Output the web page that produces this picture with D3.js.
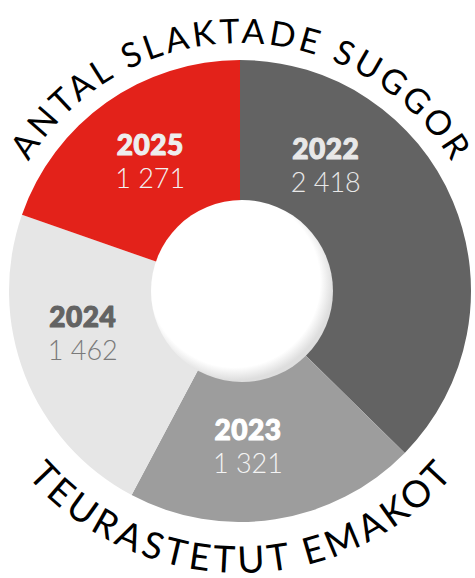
<!DOCTYPE html>
<html>
<head>
<meta charset="utf-8">
<script src="https://cdn.jsdelivr.net/npm/d3@7"></script>
<style>
  html, body { margin: 0; padding: 0; background: #fff; }
  svg { display: block; }
</style>
</head>
<body>
<div id="chart"></div>
<script>
// data
const years = ['2022', '2023', '2024', '2025'];
const sows = [2418, 1321, 1462, 1271];
const valueLabels = ['2 418', '1 321', '1 462', '1 271'];
const titleTop = 'ANTAL SLAKTADE SUGGOR';
const titleBottom = 'TEURASTETUT EMAKOT';

// look
const sliceColors = ['#636363', '#9d9d9d', '#e6e6e6', '#e3221a'];
const yearColors = ['#e8e8e8', '#ffffff', '#636363', '#eeeeee'];
const valueColors = ['#e8e8e8', '#f4f4f4', '#7a7a7a', '#f2f2f2'];
// hand placed labels, offset from the slice centroid
const labelNudge = [[-59, -67], [-16, -2], [-11, -17], [1, -4]];

const width = 475, height = 578;
const cx = 240, cy = 291;
const outerR = 231, innerR = 86;

const svg = d3.select('#chart').append('svg')
  .attr('width', width)
  .attr('height', height);

const defs = svg.append('defs');
const grad = defs.append('radialGradient')
  .attr('id', 'holeShade')
  .attr('cx', '46%').attr('cy', '45%').attr('r', '54%');
grad.append('stop').attr('offset', '0%').attr('stop-color', '#ffffff');
grad.append('stop').attr('offset', '87%').attr('stop-color', '#ffffff');
grad.append('stop').attr('offset', '100%').attr('stop-color', '#dedede');

const g = svg.append('g').attr('transform', `translate(${cx},${cy})`);

const pie = d3.pie().sort(null).value(d => d);
const arcs = pie(sows);

const arc = d3.arc().innerRadius(innerR).outerRadius(outerR);
const labelArc = d3.arc().innerRadius(157).outerRadius(157);

g.selectAll('path.slice')
  .data(arcs)
  .join('path')
  .attr('class', 'slice')
  .attr('d', arc)
  .attr('fill', (d, i) => sliceColors[i]);

// white hole with soft inner shading
g.append('circle')
  .attr('cx', 2)
  .attr('cy', 0)
  .attr('r', 91)
  .attr('fill', 'url(#holeShade)');

const labels = g.selectAll('g.label')
  .data(arcs)
  .join('g')
  .attr('class', 'label')
  .attr('transform', (d, i) => {
    const c = labelArc.centroid(d);
    return `translate(${c[0] + labelNudge[i][0]},${c[1] + labelNudge[i][1]})`;
  });

// heavy year figures (stroke thickens the bold face)
labels.append('text')
  .attr('y', -4)
  .attr('text-anchor', 'middle')
  .style('font-family', 'Lato, sans-serif')
  .style('font-weight', 900)
  .style('font-size', '28px')
  .style('letter-spacing', '0.5px')
  .attr('fill', (d, i) => yearColors[i])
  .attr('stroke', (d, i) => yearColors[i])
  .attr('stroke-width', 1.1)
  .attr('stroke-linejoin', 'round')
  .text((d, i) => years[i]);

labels.append('text')
  .attr('y', 29)
  .attr('text-anchor', 'middle')
  .style('font-family', 'Lato, sans-serif')
  .style('font-weight', 300)
  .style('font-size', '27px')
  .attr('fill', (d, i) => valueColors[i])
  .text((d, i) => valueLabels[i]);

// curved titles
function curvedTitle(id, r, sweep, text, size, spanDeg) {
  defs.append('path')
    .attr('id', id)
    .attr('d', `M${cx - r},${cy} A${r},${r} 0 0 ${sweep} ${cx + r},${cy}`);
  const t = svg.append('text')
    .style('font-family', 'Lato, sans-serif')
    .style('font-weight', 400)
    .style('font-size', size + 'px')
    .attr('fill', '#000');
  t.append('textPath')
    .attr('href', '#' + id)
    .attr('startOffset', '50%')
    .attr('text-anchor', 'middle')
    .text(text);
  const target = r * spanDeg * Math.PI / 180;
  const natural = t.node().getComputedTextLength();
  const ls = (target - natural) / (text.length - 1);
  t.style('letter-spacing', ls + 'px');
  // the trailing spacing pushes the text left, pull it back
  t.select('textPath').attr('startOffset', (50 + (ls / 2) / (Math.PI * r) * 100) + '%');
}

curvedTitle('topArc', 248, 1, titleTop, 34, 117);
curvedTitle('bottomArc', 282, 0, titleBottom, 37, 98);
</script>
</body>
</html>
